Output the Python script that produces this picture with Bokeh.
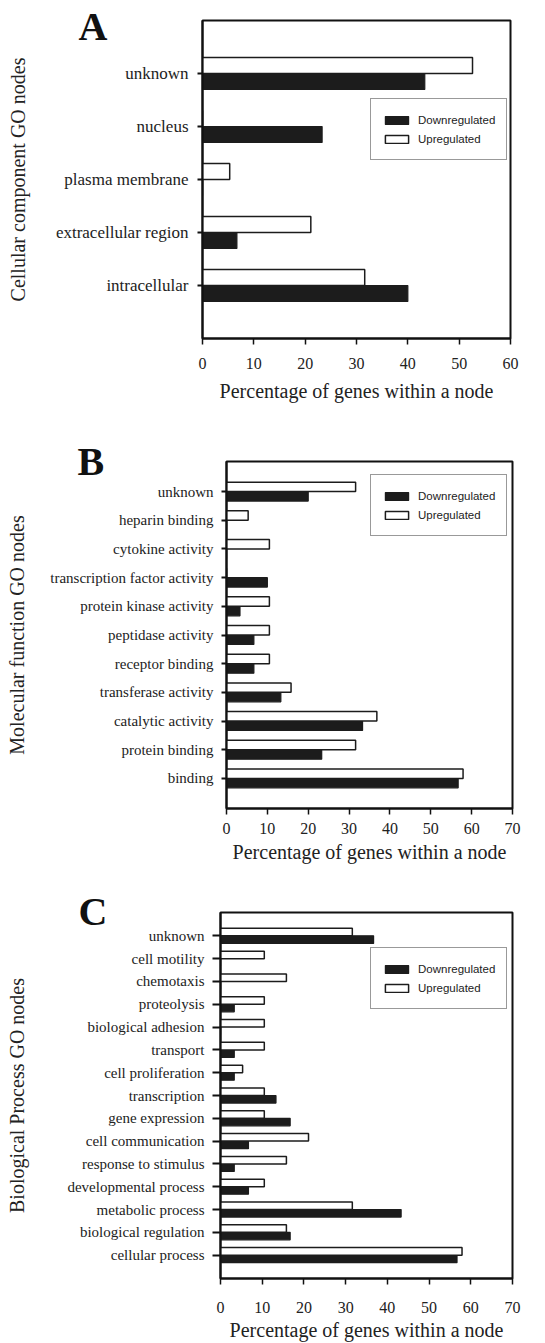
from bokeh.plotting import figure
from bokeh.models import FactorRange, Range1d, Legend, LegendItem, Title, FixedTicker, ColumnDataSource
from bokeh.transform import dodge
from bokeh.layouts import column, row
from bokeh.embed import file_html
from bokeh.resources import INLINE

# ---------------- data ----------------
a_nodes = ["unknown", "nucleus", "plasma membrane", "extracellular region", "intracellular"]
a_down = [43.3, 23.3, 0, 6.7, 40.0]
a_up = [52.6, 0, 5.3, 21.1, 31.6]

b_nodes = ["unknown", "heparin binding", "cytokine activity", "transcription factor activity",
           "protein kinase activity", "peptidase activity", "receptor binding",
           "transferase activity", "catalytic activity", "protein binding", "binding"]
b_down = [20.0, 0, 0, 10.0, 3.3, 6.7, 6.7, 13.3, 33.3, 23.3, 56.7]
b_up = [31.6, 5.3, 10.5, 0, 10.5, 10.5, 10.5, 15.8, 36.8, 31.6, 57.9]

c_nodes = ["unknown", "cell motility", "chemotaxis", "proteolysis", "biological adhesion",
           "transport", "cell proliferation", "transcription", "gene expression",
           "cell communication", "response to stimulus", "developmental process",
           "metabolic process", "biological regulation", "cellular process"]
c_down = [36.7, 0, 0, 3.3, 0, 3.3, 3.3, 13.3, 16.7, 6.7, 3.3, 6.7, 43.3, 16.7, 56.7]
c_up = [31.6, 10.5, 15.8, 10.5, 10.5, 10.5, 5.3, 10.5, 10.5, 21.1, 15.8, 10.5, 31.6, 15.8, 57.9]

x_title = "Percentage of genes within a node"
series_labels = ["Downregulated", "Upregulated"]

SERIF = "Liberation Serif"
SANS = "Liberation Sans"
INK = "#1c1c1c"


def panel(nodes, down, up, xmax, ytitle, letter, height, borders, cat_size,
          ytick_out, ylab_stand, ytitle_stand, rp, bar_h, legend_xy, letter_off,
          letter_stand, xlab_stand, xtitle_stand):
    top, bottom, left, right = borders
    src = ColumnDataSource(dict(node=nodes, down=down, up=up))
    p = figure(width=545, height=height,
               y_range=FactorRange(factors=nodes[::-1], range_padding=rp),
               x_range=Range1d(0, xmax),
               output_backend="svg", toolbar_location=None,
               min_border_top=top, min_border_bottom=bottom,
               min_border_left=left, min_border_right=right)
    r_down = p.hbar(y=dodge("node", -bar_h / 2, range=p.y_range), left=0, right="down",
                    height=bar_h, source=src, fill_color=INK, line_color=INK, line_width=1.2)
    r_up = p.hbar(y=dodge("node", bar_h / 2, range=p.y_range), left=0, right="up",
                  height=bar_h, source=src, fill_color="white", line_color=INK, line_width=1.5)

    p.xgrid.visible = False
    p.ygrid.visible = False
    p.outline_line_color = "#111111"
    p.outline_line_width = 2
    p.background_fill_color = "white"
    p.border_fill_color = "white"

    xa = p.xaxis[0]
    xa.ticker = FixedTicker(ticks=list(range(0, xmax + 1, 10)))
    xa.minor_tick_line_color = None
    xa.major_tick_out = 6
    xa.major_tick_in = 0
    xa.major_tick_line_width = 1.5
    xa.major_tick_line_color = "#111111"
    xa.axis_line_width = 2
    xa.axis_line_color = "#111111"
    xa.major_label_text_font = SERIF
    xa.major_label_text_font_size = "16px"
    xa.major_label_text_color = "#222222"
    xa.major_label_standoff = xlab_stand
    xa.axis_label = x_title
    xa.axis_label_text_font = SERIF
    xa.axis_label_text_font_size = "20px"
    xa.axis_label_text_font_style = "normal"
    xa.axis_label_text_color = "#222222"
    xa.axis_label_standoff = xtitle_stand

    ya = p.yaxis[0]
    ya.major_tick_out = ytick_out
    ya.major_tick_in = 0
    ya.major_tick_line_width = 2
    ya.major_tick_line_color = "#111111"
    ya.axis_line_width = 2
    ya.axis_line_color = "#111111"
    ya.major_label_text_font = SERIF
    ya.major_label_text_font_size = cat_size
    ya.major_label_text_color = "#222222"
    ya.major_label_standoff = ylab_stand
    ya.axis_label = ytitle
    ya.axis_label_text_font = SERIF
    ya.axis_label_text_font_size = "20px"
    ya.axis_label_text_font_style = "normal"
    ya.axis_label_text_color = "#222222"
    ya.axis_label_standoff = ytitle_stand

    legend = Legend(items=[LegendItem(label=series_labels[0], renderers=[r_down]),
                           LegendItem(label=series_labels[1], renderers=[r_up])],
                    location=legend_xy,
                    glyph_width=29, glyph_height=10, label_height=19, spacing=0,
                    label_standoff=7, padding=11,
                    label_text_font=SANS, label_text_font_size="11.5px",
                    label_text_color="#222222",
                    border_line_color="#333333", border_line_width=1.2,
                    background_fill_color="white", background_fill_alpha=1.0)
    p.add_layout(legend, "center")

    # panel letter: a blank first line lets the letter sit beside the frame's top edge
    p.add_layout(Title(text="\n" + letter, align="left", offset=letter_off,
                       vertical_align="bottom", standoff=letter_stand,
                       text_font=SERIF, text_font_size="40px", text_line_height=0.45,
                       text_font_style="bold", text_color="#111111"), "above")
    return p


pa = panel(a_nodes, a_down, a_up, 60, "Cellular component GO nodes", "A", 420,
           (20, 82, 202, 35), "17px", 5, 9, 24, 0.2, 0.3, (168, 178), -124, -57,
           13, 8)
pb = panel(b_nodes, b_down, b_up, 70, "Molecular function GO nodes", "B", 450,
           (41, 62, 226, 33), "15px", 5, 8, 19, 0.1, 0.33, (144, 272), -149, -44,
           8, 4)
pc = panel(c_nodes, c_down, c_up, 70, "Biological Process GO nodes", "C", 473,
           (42, 65, 220, 33), "15px", 8, 8, 36, 0.07, 0.33, (150, 269), -142, -43,
           17, 3)

layout = column(row(pa), row(pb), row(pc), spacing=0)
open("out.html", "w").write(file_html(layout, INLINE))
